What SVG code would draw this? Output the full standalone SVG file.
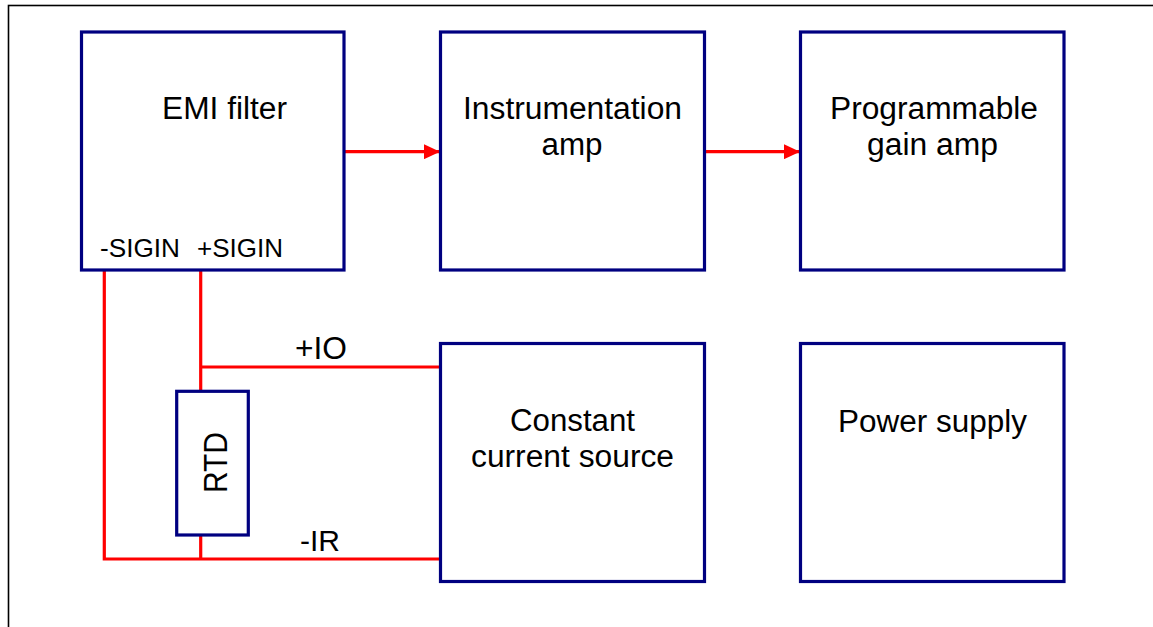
<svg xmlns="http://www.w3.org/2000/svg" width="1153" height="627" viewBox="0 0 1153 627">
<style>
.box{fill:#fff;stroke:#000080;stroke-width:3.2}
.wire{fill:none;stroke:#ff0000;stroke-width:3.2}
text{font-family:"Liberation Sans",Arial,sans-serif;fill:#000}
.big{font-size:31px;text-anchor:middle}
.sm{font-size:26px}
</style>
<defs>
<marker id="arr" markerWidth="16" markerHeight="15" refX="16" refY="7.5" orient="auto" markerUnits="userSpaceOnUse">
<path d="M0,0 L16,7.5 L0,15 Z" fill="#ff0000"/>
</marker>
</defs>
<rect width="1153" height="627" fill="#fff"/>
<rect x="8.5" y="5.5" width="1200" height="700" fill="none" stroke="#000" stroke-width="1.6"/>
<g id="connectors">
<line class="wire" x1="345" y1="151.7" x2="440" y2="151.7" marker-end="url(#arr)"/>
<line class="wire" x1="705" y1="151.7" x2="800" y2="151.7" marker-end="url(#arr)"/>
<polyline class="wire" points="104.3,271 104.3,559 440,559"/>
<polyline class="wire" points="200.7,271 200.7,391.3"/>
<polyline class="wire" points="200.7,367 440,367"/>
<polyline class="wire" points="200.7,535 200.7,559"/>
<text class="sm" x="295" y="359" style="font-size:31px" textLength="52" lengthAdjust="spacingAndGlyphs">+IO</text>
<text class="sm" x="300" y="551" style="font-size:30px" textLength="40" lengthAdjust="spacingAndGlyphs">-IR</text>
</g>
<g id="emi">
<rect class="box" x="81.5" y="32" width="262.5" height="238"/>
<text class="big" x="224.5" y="118.5" textLength="125" lengthAdjust="spacingAndGlyphs">EMI filter</text>
<text class="sm" x="100" y="257" textLength="80" lengthAdjust="spacingAndGlyphs">-SIGIN</text>
<text class="sm" x="197" y="257" textLength="86" lengthAdjust="spacingAndGlyphs">+SIGIN</text>
</g>
<g id="inamp">
<rect class="box" x="440.5" y="32" width="264" height="238"/>
<text class="big" x="572.5" y="119" textLength="219" lengthAdjust="spacingAndGlyphs">Instrumentation</text>
<text class="big" x="572" y="155" textLength="61" lengthAdjust="spacingAndGlyphs">amp</text>
</g>
<g id="pga">
<rect class="box" x="800.5" y="32" width="263.5" height="238"/>
<text class="big" x="934" y="118.5" textLength="208" lengthAdjust="spacingAndGlyphs">Programmable</text>
<text class="big" x="932.5" y="155" textLength="131" lengthAdjust="spacingAndGlyphs">gain amp</text>
</g>
<g id="ccs">
<rect class="box" x="440.5" y="343.5" width="264" height="238"/>
<text class="big" x="572.5" y="431" textLength="125" lengthAdjust="spacingAndGlyphs">Constant</text>
<text class="big" x="572.5" y="467" textLength="203" lengthAdjust="spacingAndGlyphs">current source</text>
</g>
<g id="power">
<rect class="box" x="800.5" y="343.5" width="263.5" height="238"/>
<text class="big" x="932.5" y="431.5" textLength="189" lengthAdjust="spacingAndGlyphs">Power supply</text>
</g>
<g id="rtd">
<rect class="box" x="176.7" y="391.3" width="71.6" height="143.7"/>
<text class="big" transform="translate(227,462.5) rotate(-90)" x="0" y="0" style="font-size:33px" textLength="61" lengthAdjust="spacingAndGlyphs">RTD</text>
</g>
</svg>
